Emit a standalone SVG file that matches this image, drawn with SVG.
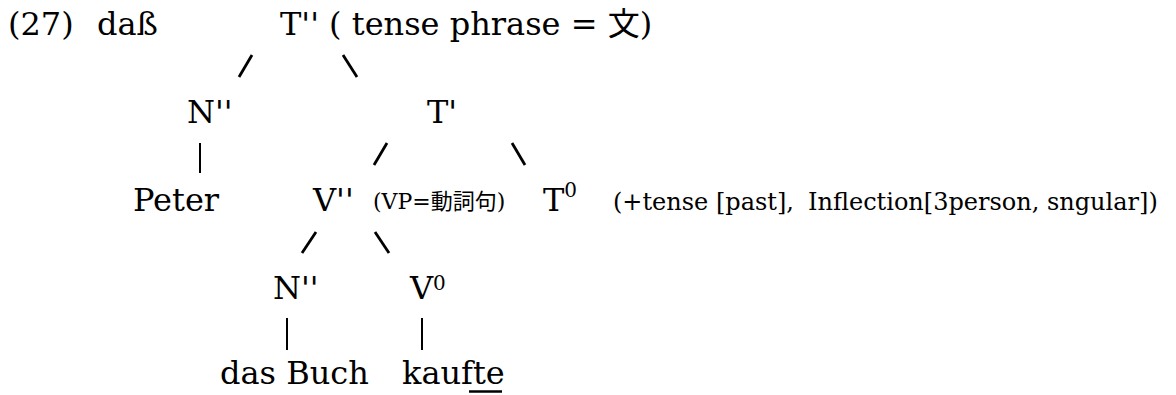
<svg xmlns="http://www.w3.org/2000/svg" width="1176" height="395" viewBox="0 0 1176 395">
<style>
text{font-family:"DejaVu Serif","Noto Sans CJK JP",serif;fill:#000}
.big{font-size:32px}
.small{font-size:24px}
.vp{font-size:22px}
.sup{font-size:20px}
.conn line{stroke:#000;stroke-linecap:butt}
.sl{stroke-width:2.8}
.bar{stroke-width:2}
</style>
<rect width="1176" height="395" fill="#fff"/>
<g id="example-number"><text class="big" x="8" y="35">(27)</text></g>
<g id="complementizer"><text class="big" x="97" y="35">daß</text></g>
<g id="T-double-bar"><text class="big" x="280" y="35">T'' ( tense phrase = 文)</text></g>
<g id="N-double-bar-subject"><text class="big" x="187" y="123">N''</text></g>
<g id="T-bar"><text class="big" x="427" y="123">T'</text></g>
<g id="peter"><text class="big" x="133" y="211">Peter</text></g>
<g id="V-double-bar"><text class="big" x="313" y="211">V''</text><text class="vp" x="373" y="209">(VP=動詞句)</text></g>
<g id="T-zero"><text class="big" x="543" y="211">T<tspan class="sup" dy="-14">0</tspan></text><text class="small" x="613" y="210">(+tense [past],</text><text class="small" x="808" y="210">Inflection[3person, sngular])</text></g>
<g id="N-double-bar-object"><text class="big" x="273" y="299">N''</text></g>
<g id="V-zero"><text class="big" x="410" y="299">V<tspan class="sup" dy="-9">0</tspan></text></g>
<g id="das-buch"><text class="big" x="220" y="384">das Buch</text></g>
<g id="kaufte"><text class="big" x="402" y="384">kaufte</text><line x1="469" y1="391.5" x2="502" y2="391.5" stroke="#000" stroke-width="2.5"/></g>
<g id="connectors" class="conn">
<line class="sl" x1="239" y1="77" x2="252" y2="55"/>
<line class="sl" x1="343" y1="55" x2="357" y2="77"/>
<line class="bar" x1="200" y1="143" x2="200" y2="173"/>
<line class="sl" x1="374" y1="165" x2="387" y2="143"/>
<line class="sl" x1="512" y1="143" x2="525" y2="165"/>
<line class="sl" x1="302" y1="253" x2="316" y2="232"/>
<line class="sl" x1="375" y1="232" x2="389" y2="253"/>
<line class="bar" x1="287" y1="318" x2="287" y2="350"/>
<line class="bar" x1="422" y1="318" x2="422" y2="350"/>
</g>
</svg>
